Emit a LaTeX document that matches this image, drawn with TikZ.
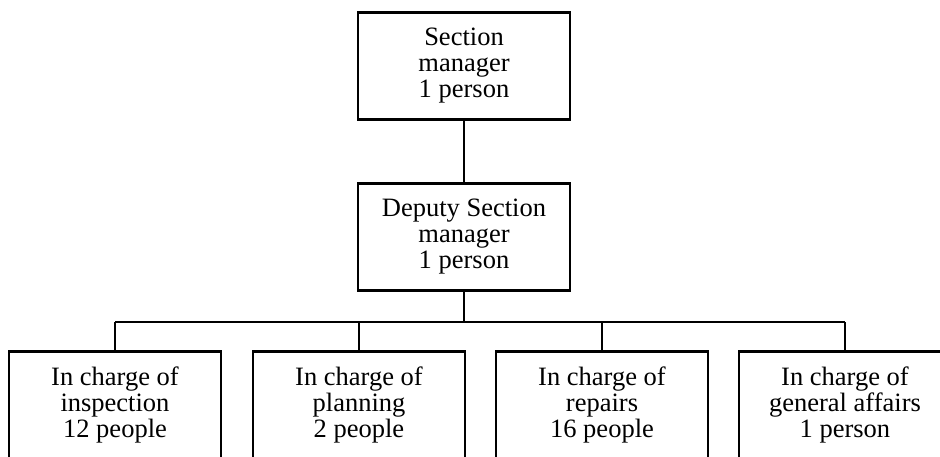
\documentclass[tikz,border=0pt]{standalone}
\usepackage{fontspec}
\setmainfont{Liberation Serif}
\begin{document}
\begin{tikzpicture}[x=1pt,y=-1pt,
  orgbox/.style={draw, line width=2.8pt, minimum width=212pt, minimum height=107pt,
    inner sep=0pt, align=center, font=\fontsize{26.5}{26}\selectfont},
  trunk/.style={line width=2.4pt},
  branch/.style={line width=1.3pt}]
  \clip (0,0) rectangle (940,456);
  \fill[white] (0,0) rectangle (940,456);

  % management chain
  \node[orgbox] (sm)  at (464,66)  {Section\\manager\\1 person};
  \node[orgbox] (dsm) at (464,237) {Deputy Section\\manager\\1 person};

  % staff groups
  \node[orgbox] (insp) at (115,405) {In charge of\\inspection\\12 people};
  \node[orgbox] (plan) at (359,405) {In charge of\\planning\\2 people};
  \node[orgbox] (rep)  at (602,405) {In charge of\\repairs\\16 people};
  \node[orgbox] (gen)  at (845,405) {In charge of\\general affairs\\1 person};

  \coordinate (bus) at (464,322);

  % connectors
  \draw[trunk] (sm.south) -- (dsm.north);
  \draw[trunk] (dsm.south) -- (bus);
  \draw[branch] (insp.north |- bus) -- (gen.north |- bus);
  \foreach \n in {insp,plan,rep,gen}
    \draw[branch] (\n.north |- bus) -- (\n.north);
\end{tikzpicture}
\end{document}
